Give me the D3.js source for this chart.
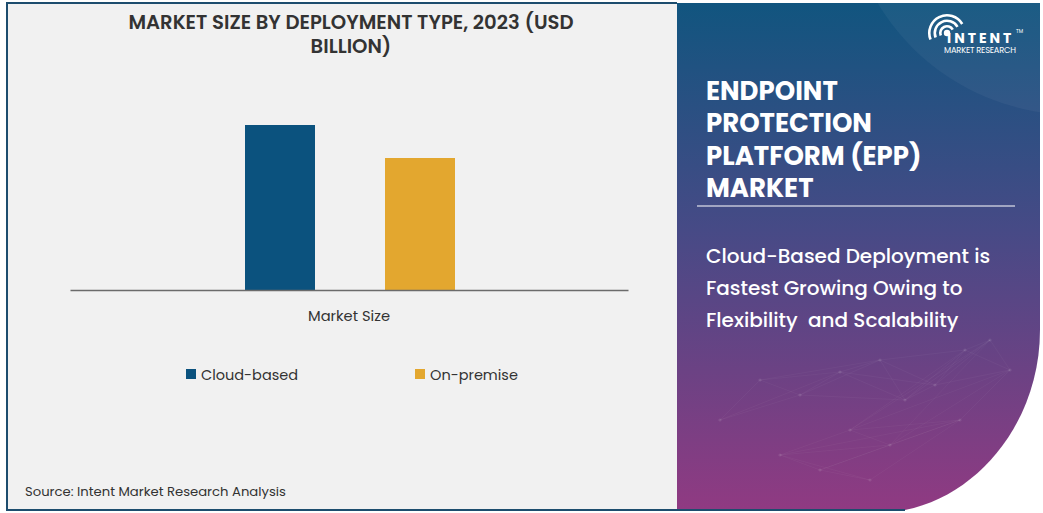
<!DOCTYPE html>
<html><head><meta charset="utf-8">
<script src="https://cdn.jsdelivr.net/npm/d3@7"></script>
<style>
html,body{margin:0;padding:0;background:#fff;}
svg{display:block;}
</style></head>
<body>
<svg id="chart" width="1043" height="513"></svg>
<script>
// ---- data ----
const categories = ["Market Size"];
const seriesNames = ["Cloud-based", "On-premise"];
const seriesValues = [8.25, 6.6];
const seriesColors = ["#0b527e", "#e3a72f"];
const chartTitle = ["MARKET SIZE BY DEPLOYMENT TYPE, 2023 (USD", "BILLION)"];
const panelTitle = ["ENDPOINT", "PROTECTION", "PLATFORM (EPP)", "MARKET"];
const panelSub = ["Cloud-Based Deployment is", "Fastest Growing Owing to", "Flexibility  and Scalability"];
const sourceText = "Source: Intent Market Research Analysis";

const svg = d3.select("#chart");
const font = "Poppins, 'Open Sans', Lato, sans-serif";

// left panel background
svg.append("rect").attr("x",6).attr("y",3).attr("width",672).attr("height",507).attr("fill","#f1f1f1");

// right panel gradient
const defs = svg.append("defs");
const g1 = defs.append("linearGradient").attr("id","pg").attr("x1",0).attr("y1",0).attr("x2",0).attr("y2",1);
g1.append("stop").attr("offset","0%").attr("stop-color","#11557f");
g1.append("stop").attr("offset","45%").attr("stop-color","#474a86");
g1.append("stop").attr("offset","100%").attr("stop-color","#903a82");

const clip = defs.append("clipPath").attr("id","pclip");
const panelPath = "M677,3 L1040,3 L1040,330 C1040,420 980,495 905,510 L677,510 Z";
clip.append("path").attr("d", panelPath);
svg.append("path").attr("d", panelPath).attr("fill","url(#pg)");
const pg = svg.append("g").attr("clip-path","url(#pclip)");
pg.append("circle").attr("cx",1075).attr("cy",-115).attr("r",230).attr("fill","#ffffff").attr("opacity",0.045);
// faint network dots (decorative)
const nodes = [[720,420],[760,380],[800,395],[840,372],[880,360],[905,400],[935,385],[965,350],[990,340],[1010,370],[850,430],[890,445],[960,420],[780,455],[820,470],[870,480]];
nodes.forEach((a,i)=>nodes.slice(i+1,i+4).forEach(b=>pg.append("line").attr("x1",a[0]).attr("y1",a[1]).attr("x2",b[0]).attr("y2",b[1]).attr("stroke","#fff").attr("stroke-opacity",0.035)));
nodes.forEach(n=>pg.append("circle").attr("cx",n[0]).attr("cy",n[1]).attr("r",1.6).attr("fill","#fff").attr("opacity",0.1));

// border of left panel
svg.append("path").attr("d","M677,3 L7,3 L7,510 L905,510").attr("fill","none").attr("stroke","#1d4d6e").attr("stroke-width",2);

// ---- chart ----
const margin = {left:70, right:628, top:90, bottom:290};
const x0 = d3.scaleBand().domain(categories).range([margin.left, margin.right]).paddingInner(0).paddingOuter(0);
const y = d3.scaleLinear().domain([0,10]).range([margin.bottom, margin.top]);
const color = d3.scaleOrdinal().domain(seriesNames).range(seriesColors);

const xb = d3.scaleBand().domain(seriesNames)
  .range([x0(categories[0]) + 175, x0(categories[0]) + 385]).paddingInner(0.5).paddingOuter(0);

svg.append("g").selectAll("rect").data(seriesNames.map((s,i)=>({s, v:seriesValues[i]})))
  .join("rect")
  .attr("x", d=>xb(d.s))
  .attr("width", xb.bandwidth())
  .attr("y", d=>y(d.v))
  .attr("height", d=>y(0)-y(d.v))
  .attr("fill", d=>color(d.s));

const xAxis = svg.append("g").attr("transform",`translate(0,${margin.bottom})`).call(d3.axisBottom(x0).tickSize(0).tickPadding(18));
xAxis.select(".domain").attr("stroke","#6b6b6b").attr("stroke-width",1.3);
xAxis.selectAll("text").attr("font-family",font).attr("font-size",14.7).attr("fill","#333").attr("dy","0.9em");

// title
svg.append("text").attr("x",351).attr("y",29).attr("text-anchor","middle")
  .attr("font-family",font).attr("font-weight",600).attr("font-size",19.6).attr("fill","#333")
  .selectAll("tspan").data(chartTitle).join("tspan").attr("x",351).attr("dy",(d,i)=>i?24:0).text(d=>d);

// legend
const legX = [186, 415];
const leg = svg.append("g").selectAll("g").data(seriesNames).join("g").attr("transform",(d,i)=>`translate(${legX[i]},369)`);
leg.append("rect").attr("width",10).attr("height",10).attr("fill",d=>color(d));
leg.append("text").attr("x",15).attr("y",10.5).attr("font-family",font).attr("font-size",14.5).attr("fill","#333").text(d=>d);

// source
svg.append("text").attr("x",25).attr("y",496).attr("font-family",font).attr("font-size",13.2).attr("fill","#333").text(sourceText);

// right panel texts
svg.append("text").attr("font-family",font).attr("font-weight",700).attr("font-size",26).attr("fill","#fff")
  .selectAll("tspan").data(panelTitle).join("tspan").attr("x",706).attr("y",(d,i)=>100+i*32.3).text(d=>d);
svg.append("line").attr("x1",697).attr("x2",1015).attr("y1",206).attr("y2",206).attr("stroke","#fff").attr("stroke-width",1.2);
svg.append("text").attr("font-family",font).attr("font-weight",500).attr("font-size",20).attr("fill","#fff")
  .selectAll("tspan").data(panelSub).join("tspan").attr("x",706).attr("y",(d,i)=>263+i*32).attr("xml:space","preserve").text(d=>d);

// logo
const logo = svg.append("g").attr("transform","translate(947,33)");
[8,13.5,19].forEach(r=>logo.append("path").attr("d",d3.arc()({innerRadius:r-2.6,outerRadius:r,startAngle:-Math.PI*0.62,endAngle:Math.PI*0.33})).attr("fill","#fff"));
logo.append("circle").attr("r",3.2).attr("fill","#fff");
svg.append("text").attr("x",947).attr("y",43).attr("font-family",font).attr("font-weight",700).attr("font-size",14).attr("letter-spacing",3).attr("fill","#fff").text("INTENT");
svg.append("text").attr("x",1016).attr("y",33).attr("font-family",font).attr("font-size",5).attr("fill","#fff").text("TM");
svg.append("text").attr("x",944).attr("y",53).attr("font-family",font).attr("font-size",8.3).attr("textLength",72).attr("fill","#fff").text("MARKET RESEARCH");
</script>
</body></html>
